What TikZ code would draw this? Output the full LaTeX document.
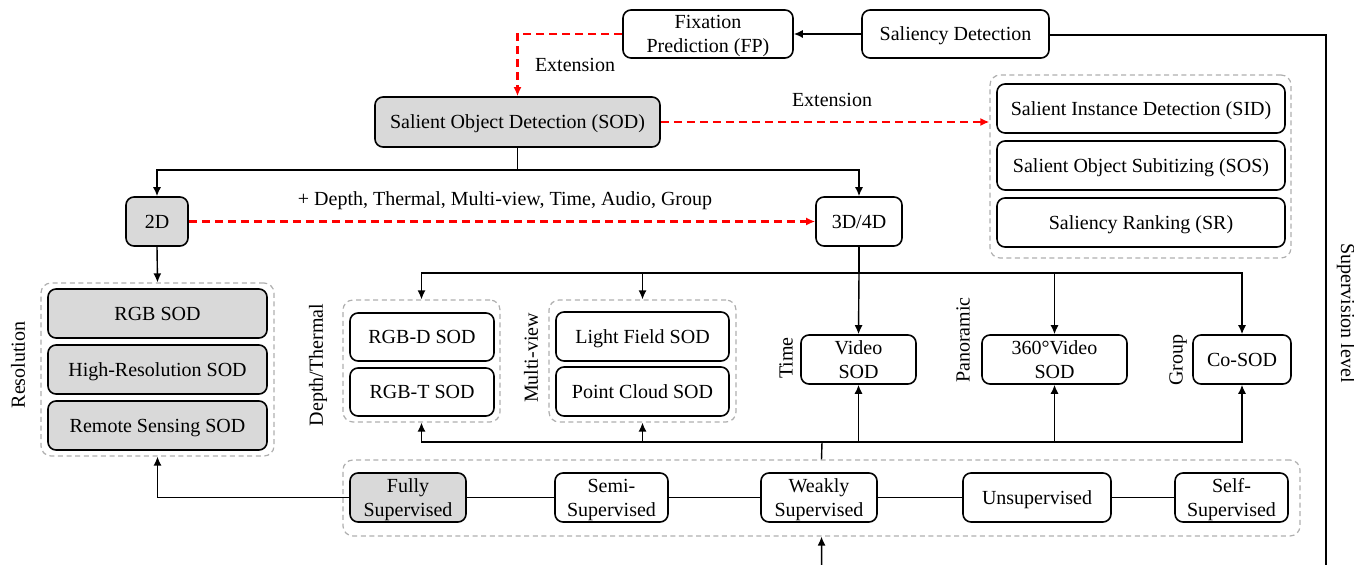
\documentclass[tikz,border=0pt]{standalone}
\usepackage{fontspec}
\setmainfont{Liberation Serif}
\usetikzlibrary{arrows.meta,fit}
\definecolor{boxgray}{RGB}{217,217,217}
\definecolor{grpgray}{RGB}{175,175,175}
\tikzset{
  box/.style={draw, line width=0.8pt, rounded corners=4pt, inner sep=0pt, align=center, minimum height=24.5pt, text depth=0pt},
  grayfill/.style={fill=boxgray},
  grp/.style={draw=grpgray, dashed, dash pattern=on 2.5pt off 1.8pt, line width=0.6pt, rounded corners=5pt, inner sep=0pt},
  conn/.style={line width=0.7pt},
  arr/.style={line width=0.7pt, -{Latex[length=4.5pt,width=4pt]}},
  redarr/.style={draw=red, line width=1.1pt, dash pattern=on 4pt off 2.5pt, -{Latex[length=4.5pt,width=4pt]}},
  lbl/.style={inner sep=0pt},
}
\begin{document}
\begin{tikzpicture}[x=0.5pt,y=-0.5pt]
\useasboundingbox (0,0) rectangle (1354,565);
% top
\node[box, minimum width=85pt, minimum height=24pt] (fp) at (708,34) {Fixation\\Prediction (FP)};
\node[box, minimum width=93.5pt, minimum height=24pt] (sd) at (955.5,34) {Saliency Detection};
\node[box, grayfill, minimum width=142.5pt, minimum height=25pt] (sod) at (517.5,122) {Salient Object Detection (SOD)};
% right group
\node[grp, fit={(990,75)(1291,258)}] (rg) {};
\node[box, minimum width=144pt] (sid) at (1141,108.5) {Salient Instance Detection (SID)};
\node[box, minimum width=144pt] (sos) at (1141,165.5) {Salient Object Subitizing (SOS)};
\node[box, minimum width=144pt] (sr) at (1141,222.5) {Saliency Ranking (SR)};
% 2D / 3D
\node[box, grayfill, minimum width=31pt] (d2) at (157,221.5) {2D};
\node[box, minimum width=43pt] (d34) at (859,221.5) {3D/4D};
% resolution group
\node[grp, fit={(41,283)(274,456)}] (resg) {};
\node[box, grayfill, minimum width=109.5pt] (rgb) at (157.5,313.5) {RGB SOD};
\node[box, grayfill, minimum width=109.5pt] (hr) at (157.5,369.5) {High-Resolution SOD};
\node[box, grayfill, minimum width=109.5pt] (rs) at (157.5,425.5) {Remote Sensing SOD};
\node[lbl, rotate=90] (reslbl) at (18,365) {Resolution};
% depth group
\node[grp, fit={(343,300)(500,422)}] (dg) {};
\node[box, minimum width=72pt, minimum height=24pt] (rgbd) at (422,337) {RGB-D SOD};
\node[box, minimum width=72pt, minimum height=24pt] (rgbt) at (422,392) {RGB-T SOD};
\node[lbl, rotate=90] (dlbl) at (318,365) {Depth/Thermal};
% multiview group
\node[grp, fit={(549,300)(736,422)}] (mg) {};
\node[box, minimum width=86.5pt] (lf) at (642.5,336.5) {Light Field SOD};
\node[box, minimum width=86.5pt] (pc) at (642.5,391.5) {Point Cloud SOD};
\node[lbl, rotate=90] (mlbl) at (531,358) {Multi-view};
% singles
\node[box, minimum width=57.5pt] (vid) at (858.5,359.5) {Video\\SOD};
\node[lbl, rotate=90] (tlbl) at (786,358) {Time};
\node[box, minimum width=72.5pt] (pan) at (1054.5,359.5) {360°Video\\SOD};
\node[lbl, rotate=90] (plbl) at (963,340) {Panoramic};
\node[box, minimum width=49pt] (co) at (1242,359.5) {Co-SOD};
\node[lbl, rotate=90] (glbl) at (1178,360) {Group};
% supervision group
\node[grp, fit={(343,460)(1300,536)}] (sg) {};
\node[box, grayfill, minimum width=58pt] (fs) at (408,497.5) {Fully\\Supervised};
\node[box, minimum width=56.5pt] (ss) at (611.5,497.5) {Semi-\\Supervised};
\node[box, minimum width=58pt] (ws) at (819,497.5) {Weakly\\Supervised};
\node[box, minimum width=74pt] (us) at (1037,497.5) {Unsupervised};
\node[box, minimum width=56.5pt] (sfs) at (1231.5,497.5) {Self-\\Supervised};
\node[lbl, rotate=-90] (svl) at (1346,313) {Supervision level};
% labels
\node[lbl] (ext1) at (575,65) {Extension};
\node[lbl] (ext2) at (832,100) {Extension};
\node[lbl] (plus) at (505,201) {+ Depth, Thermal, Multi-view, Time, Audio, Group};
% coordinates
\coordinate (sodbus) at (517.5,170);
\coordinate (topbus) at (859,273);
\coordinate (botbus) at (822,442);
\coordinate (rc1) at (1326,35);
\coordinate (rc2) at (1326,620);
\coordinate (rc3) at (822,620);
% connectors
\draw[arr] (sd.west) -- (fp.east);
\draw[conn] (sd.east |- rc1) -- (rc1) -- (rc2) -- (rc3);
\draw[arr] (rc3) -- (sg.south);
\draw[redarr] (fp.west) -| (sod.north);
\draw[redarr] (sod.east) -- (sod.east -| rg.west);
\draw[conn] (sod.south) -- (sodbus);
\draw[arr] (sodbus) -| (d2.north);
\draw[arr] (sodbus) -| (d34.north);
\draw[redarr] (d2.east) -- (d34.west);
\draw[arr] (d2.south) -- (resg.north);
\draw[conn] (d34.south) -- (topbus);
\draw[arr] (topbus) -| (dg.north);
\draw[arr] (topbus) -| (mg.north);
\draw[arr] (topbus) -- (vid.north);
\draw[arr] (topbus) -| (pan.north);
\draw[arr] (topbus) -| (co.north);
\draw[conn] (sg.north) -- (botbus);
\draw[arr] (botbus) -| (dg.south);
\draw[arr] (botbus) -| (mg.south);
\draw[arr] (botbus) -| (vid.south);
\draw[arr] (botbus) -| (pan.south);
\draw[arr] (botbus) -| (co.south);
\draw[arr] (fs.west) -| (resg.south);
\draw[conn] (fs.east) -- (ss.west);
\draw[conn] (ss.east) -- (ws.west);
\draw[conn] (ws.east) -- (us.west);
\draw[conn] (us.east) -- (sfs.west);
\end{tikzpicture}
\end{document}
